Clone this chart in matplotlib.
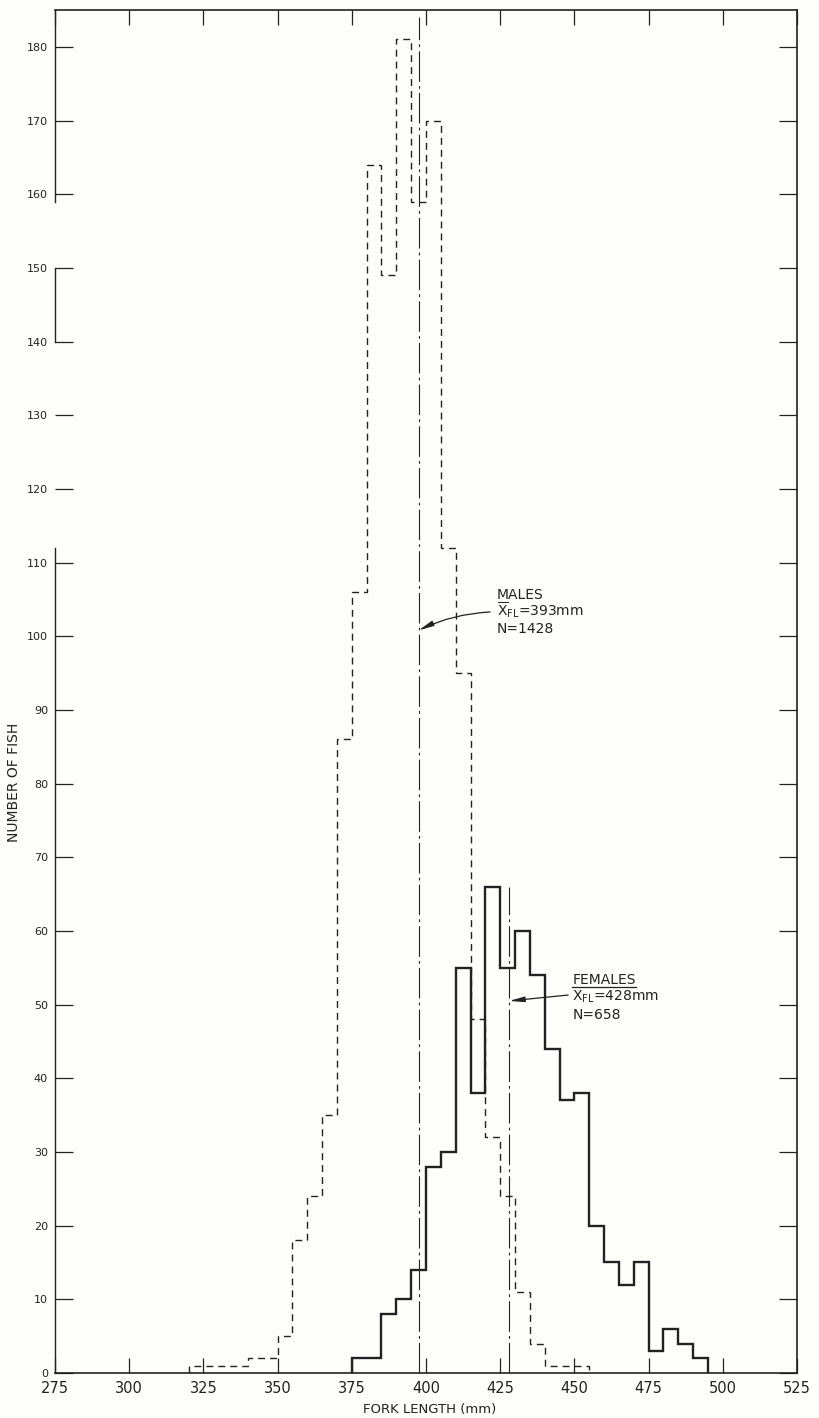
import matplotlib.pyplot as plt
from matplotlib.lines import Line2D
import numpy as np

plt.rcParams['font.family'] = ['DejaVu Sans']
plt.rcParams['mathtext.fontset'] = 'dejavusans'
plt.rcParams['lines.scale_dashes'] = False

# fork length classes, 5 mm wide
bin_width = 5
male_start = 320
male_counts = [1, 1, 1, 1, 2, 2, 5, 18, 24, 35, 86, 106, 164, 149, 181, 159, 170,
               112, 95, 48, 32, 24, 11, 4, 1, 1, 1]
female_start = 375
female_counts = [2, 2, 8, 10, 14, 28, 30, 55, 38, 66, 55, 60, 54, 44, 37, 38, 20,
                 15, 12, 15, 3, 6, 4, 2]

# mean lines as drawn
male_mean = 397.5
male_mean_top = 184
female_mean = 428
female_mean_top = 66

x_ticks = list(range(275, 526, 25))
y_ticks = list(range(0, 181, 10))

male_label = ['MALES', r'$\overline{\mathrm{X}}_{\mathrm{FL}}$=393mm', 'N=1428']
female_label = ['FEMALES', r'$\overline{\mathrm{X}}_{\mathrm{FL}}$=428mm', 'N=658']

# pieces of the left frame line that survived the scan
left_spine_spans = [(159, 185), (140, 150), (0, 112)]

ink = '#222222'
paper = '#fdfdfa'

fig = plt.figure(figsize=(8.19, 14.18), dpi=100, facecolor=paper)
ax = fig.add_axes([55/819, 45/1418, 742/819, 1363/1418])
ax.set_facecolor(paper)

male_edges = male_start + bin_width*np.arange(len(male_counts) + 1)
female_edges = female_start + bin_width*np.arange(len(female_counts) + 1)

ax.stairs(male_counts, male_edges, baseline=0, color=ink, lw=1.0,
          linestyle=(0, (5, 3.6)))
ax.stairs(female_counts, female_edges, baseline=0, color=ink, lw=1.7)

dashdot = (0, (22, 3, 2, 3))
ax.plot([male_mean, male_mean], [0, male_mean_top], color=ink, lw=0.8, linestyle=dashdot)
ax.plot([female_mean, female_mean], [0, female_mean_top], color=ink, lw=0.8, linestyle=dashdot)

ax.set_xlim(275, 525)
ax.set_ylim(0, 185)
ax.set_xticks(x_ticks)
ax.set_yticks(y_ticks)
ax.tick_params(direction='in', top=True, right=True, length=11, width=0.9, color=ink)
ax.tick_params(axis='x', labelsize=10.5, pad=6, labelcolor=ink)
ax.tick_params(axis='y', labelsize=8, pad=5, labelcolor=ink)
ax.tick_params(axis='y', which='major', left=True, length=13)

for side in ['top', 'right', 'bottom']:
    ax.spines[side].set_linewidth(1.2)
    ax.spines[side].set_color(ink)
ax.spines['left'].set_visible(False)
for a, b in left_spine_spans:
    ax.plot([0, 0], [a, b], transform=ax.get_yaxis_transform(), color=ink,
            lw=1.0, clip_on=False)

# annotations
arrow = dict(arrowstyle='-|>,head_length=0.9,head_width=0.16', lw=0.9, color=ink,
             shrinkA=0, shrinkB=0)
ax.annotate('', xy=(male_mean, 100.8), xytext=(421.6, 103.3),
            arrowprops=dict(arrow, connectionstyle='arc3,rad=0.1'))
ax.annotate('', xy=(female_mean, 50.5), xytext=(447.9, 51.3),
            arrowprops=dict(arrow, connectionstyle='arc3,rad=0'))

for y, s in zip([105.0, 102.8, 100.4], male_label):
    ax.text(423.8, y, s, fontsize=10, color=ink, va='baseline', ha='left')
female_texts = []
for y, s in zip([52.8, 50.5, 48.0], female_label):
    female_texts.append(ax.text(449.3, y, s, fontsize=10, color=ink, va='baseline', ha='left'))

fig.text(430/819, 1 - 1410/1418, 'FORK LENGTH (mm)', fontsize=9.5, color=ink,
         ha='center', va='center')
fig.text(14/819, 1 - 782/1418, 'NUMBER OF FISH', fontsize=10, color=ink,
         ha='center', va='center', rotation=90)

# underline under FEMALES
fig.canvas.draw()
bb = female_texts[0].get_window_extent()
fig.add_artist(Line2D([bb.x0, bb.x1], [bb.y0 - 0.5, bb.y0 - 0.5], transform=None,
                      color=ink, lw=0.9))

fig.savefig('out.png', dpi=100, facecolor=paper)
